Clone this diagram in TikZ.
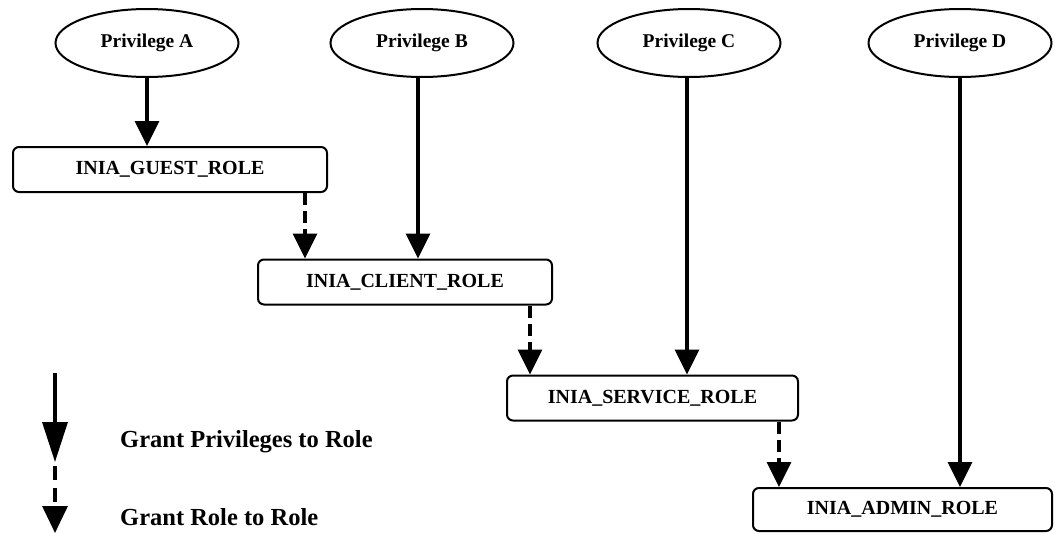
\documentclass[tikz,border=0pt]{standalone}
\usepackage{fontspec}
\setmainfont{Liberation Serif}
\usetikzlibrary{shapes.geometric,arrows.meta,calc}
\tikzset{
  priv/.style={ellipse, draw, line width=2pt, minimum width=183pt, minimum height=68pt,
    inner sep=0pt, font=\fontsize{19.5}{19.5}\selectfont\bfseries},
  rolebox/.style={rectangle, draw, line width=2pt, rounded corners=6pt,
    minimum height=45pt, inner sep=0pt, font=\fontsize{20}{20}\selectfont\bfseries},
  grantpriv/.style={line width=3.3pt, -{Triangle[length=25pt,width=24pt]}},
  grantrole/.style={grantpriv, dash pattern=on 12pt off 6pt},
  legendtext/.style={anchor=west, inner sep=0pt, font=\fontsize{24.5}{24.5}\selectfont\bfseries}
}
\begin{document}
\begin{tikzpicture}[x=1pt,y=-1pt]
  \useasboundingbox[fill=white] (0,0) rectangle (1055,533);

  % privileges
  \node[priv] (pa) at (147,43) {Privilege A};
  \node[priv] (pb) at (422,43) {Privilege B};
  \node[priv] (pc) at (689,43) {Privilege C};
  \node[priv] (pd) at (960,43) {Privilege D};

  % roles
  \node[rolebox, minimum width=314pt] (guest)   at (170,169.5) {INIA\_GUEST\_ROLE};
  \node[rolebox, minimum width=294pt] (client)  at (405,282)   {INIA\_CLIENT\_ROLE};
  \node[rolebox, minimum width=291pt] (service) at (652.5,398) {INIA\_SERVICE\_ROLE};
  \node[rolebox, minimum width=299pt, minimum height=43pt] (admin) at (902.5,509.5) {INIA\_ADMIN\_ROLE};

  % privileges granted to roles
  \draw[grantpriv] (pa.south) -- (pa.south |- guest.north);
  \draw[grantpriv] ([xshift=-4pt]pb.south) -- ([xshift=-4pt]pb.south |- client.north);
  \draw[grantpriv] ([xshift=-2pt]pc.south) -- ([xshift=-2pt]pc.south |- service.north);
  \draw[grantpriv] (pd.south) -- (pd.south |- admin.north);

  % roles granted to roles
  \coordinate (g1) at ([xshift=-23pt]guest.south east);
  \coordinate (c1) at ([xshift=-23pt]client.south east);
  \coordinate (s1) at ([xshift=-20pt]service.south east);
  \draw[grantrole] (g1) -- (g1 |- client.north);
  \draw[grantrole] (c1) -- (c1 |- service.north);
  \draw[grantrole] (s1) -- (s1 |- admin.north);

  % legend
  \coordinate (l1a) at (55,373);
  \coordinate (l1b) at (55,462);
  \coordinate (l2a) at (55,466);
  \coordinate (l2b) at (55,533);
  \draw[line width=3.3pt, -{Triangle[length=40pt,width=25pt]}] (l1a) -- (l1b);
  \draw[line width=3.3pt, dash pattern=on 14pt off 8pt, -{Triangle[length=27pt,width=25pt]}] (l2a) -- (l2b);
  \node[legendtext] (lt1) at (120,442) {Grant Privileges to Role};
  \node[legendtext] (lt2) at (120,517) {Grant Role to Role};
\end{tikzpicture}
\end{document}
